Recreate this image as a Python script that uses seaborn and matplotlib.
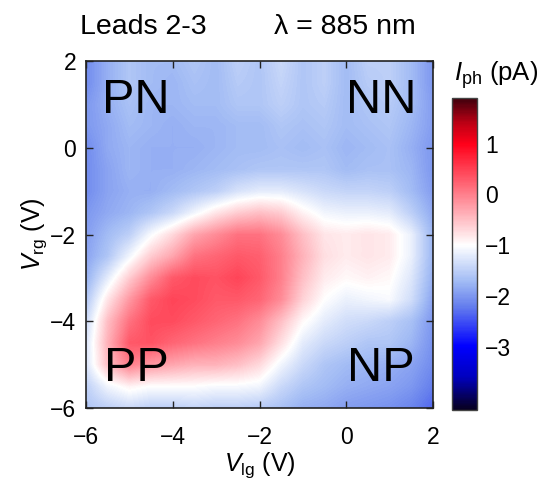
import numpy as np
import matplotlib
matplotlib.use("Agg")
import matplotlib.pyplot as plt
import seaborn as sns
from matplotlib.colors import LinearSegmentedColormap

# ---- data ----
vlg = [-6.0, -5.5, -5.0, -4.5, -4.0, -3.5, -3.0, -2.5, -2.0, -1.5, -1.0, -0.5, 0.0, 0.5, 1.0, 1.5, 2.0]
vrg = [2.0, 1.5, 1.0, 0.5, 0.0, -0.5, -1.0, -1.5, -2.0, -2.5, -3.0, -3.5, -4.0, -4.5, -5.0, -5.5, -6.0]
iph = [
    [-2.1, -1.8, -1.6, -1.7, -1.7, -1.6, -1.7, -1.5, -1.6, -1.4, -1.6, -1.5, -1.7, -1.5, -1.5, -1.7, -2.0],
    [-2.1, -1.8, -1.6, -1.7, -1.75, -1.65, -1.7, -1.55, -1.6, -1.45, -1.6, -1.5, -1.7, -1.55, -1.5, -1.7, -2.0],
    [-2.0, -1.8, -1.65, -1.75, -1.75, -1.7, -1.7, -1.6, -1.6, -1.5, -1.6, -1.55, -1.7, -1.6, -1.55, -1.7, -1.95],
    [-2.0, -1.85, -1.7, -1.75, -1.8, -1.75, -1.75, -1.7, -1.7, -1.6, -1.65, -1.6, -1.7, -1.65, -1.6, -1.75, -1.95],
    [-2.1, -1.85, -1.75, -1.8, -1.8, -1.8, -1.75, -1.7, -1.7, -1.65, -1.7, -1.65, -1.75, -1.7, -1.65, -1.8, -2.0],
    [-2.1, -1.9, -1.75, -1.8, -1.8, -1.75, -1.7, -1.65, -1.6, -1.6, -1.6, -1.6, -1.7, -1.65, -1.65, -1.75, -2.0],
    [-2.1, -1.9, -1.8, -1.8, -1.7, -1.6, -1.5, -1.3, -1.2, -1.2, -1.3, -1.4, -1.45, -1.45, -1.5, -1.7, -1.95],
    [-2.0, -1.85, -1.75, -1.6, -1.4, -1.1, -0.8, -0.6, -0.5, -0.6, -0.9, -1.1, -1.15, -1.15, -1.2, -1.5, -1.85],
    [-1.95, -1.7, -1.5, -1.05, -0.7, -0.3, -0.1, 0.1, 0.1, -0.1, -0.5, -0.8, -0.85, -0.8, -0.85, -1.15, -1.75],
    [-1.9, -1.6, -1.1, -0.6, -0.3, 0.1, 0.2, 0.3, 0.25, 0.0, -0.4, -0.75, -0.85, -0.8, -0.85, -1.15, -1.75],
    [-1.8, -1.2, -0.6, -0.1, 0.3, 0.4, 0.35, 0.45, 0.3, 0.0, -0.5, -0.85, -0.95, -0.9, -0.95, -1.25, -1.8],
    [-1.6, -0.8, -0.2, 0.3, 0.45, 0.4, 0.3, 0.3, 0.2, -0.1, -0.65, -1.0, -1.15, -1.1, -1.05, -1.35, -1.9],
    [-1.4, -0.5, 0.1, 0.4, 0.4, 0.3, 0.2, 0.1, -0.1, -0.5, -0.95, -1.2, -1.35, -1.4, -1.5, -1.65, -2.0],
    [-1.3, -0.4, 0.3, 0.35, 0.2, 0.1, 0.0, -0.1, -0.3, -0.75, -1.2, -1.4, -1.5, -1.6, -1.6, -1.75, -2.05],
    [-1.3, -0.5, 0.0, -0.2, -0.3, -0.4, -0.4, -0.5, -0.7, -1.1, -1.4, -1.6, -1.7, -1.75, -1.8, -1.9, -2.1],
    [-1.5, -1.1, -0.9, -1.0, -1.0, -1.0, -1.05, -1.05, -1.1, -1.4, -1.6, -1.7, -1.8, -1.85, -1.9, -2.0, -2.2],
    [-1.6, -1.5, -1.4, -1.5, -1.5, -1.45, -1.5, -1.5, -1.55, -1.65, -1.8, -1.85, -1.95, -2.0, -2.05, -2.15, -2.35],
]
x_ticks = [-6, -4, -2, 0, 2]
y_ticks = [-6, -4, -2, 0, 2]
cbar_ticks = [1, 0, -1, -2, -3]
corner_labels = ["PN", "NN", "PP", "NP"]
corner_pos = [(-4.85, 1.1), (0.8, 1.1), (-4.85, -5.1), (0.8, -5.1)]
vmin, vmax = -4.25, 1.9

# ---- style ----
sns.set_theme(style="white")
plt.rcParams["font.family"] = ["Liberation Sans", "DejaVu Sans"]
plt.rcParams["mathtext.fontset"] = "custom"
plt.rcParams["mathtext.rm"] = "Liberation Sans"
plt.rcParams["mathtext.it"] = "Liberation Sans:italic"
for key in ["text.color", "axes.labelcolor", "xtick.color", "ytick.color"]:
    plt.rcParams[key] = "black"

def frac(v):
    return (v - vmin) / (vmax - vmin)

cmap = LinearSegmentedColormap.from_list("iph", [
    (0.0, (0.03, 0.0, 0.12)),
    (frac(-3.6), (0.0, 0.0, 0.75)),
    (frac(-3.0), (0.0, 0.0, 1.0)),
    (frac(-2.2), (0.40, 0.50, 0.93)),
    (frac(-1.7), (0.64, 0.74, 0.96)),
    (frac(-1.0), (1.0, 1.0, 1.0)),
    (frac(1.0), (1.0, 0.0, 0.1)),
    (frac(1.4), (0.75, 0.0, 0.08)),
    (1.0, (0.25, 0.0, 0.05)),
])

fig = plt.figure(figsize=(5.37, 4.82), dpi=100)
ax = fig.add_axes([86 / 537, 1 - 408 / 482, 347 / 537, 347 / 482])
cax = fig.add_axes([452 / 537, 1 - 410 / 482, 25 / 537, 312 / 482])

data = np.array(iph)
dx = (vlg[1] - vlg[0]) / 2
dy = (vrg[0] - vrg[1]) / 2
im = ax.imshow(data, cmap=cmap, vmin=vmin, vmax=vmax, interpolation="bilinear",
               extent=[vlg[0] - dx, vlg[-1] + dx, vrg[-1] - dy, vrg[0] + dy],
               origin="upper", aspect="auto")
ax.set_xlim(-6, 2)
ax.set_ylim(-6, 2)
ax.set_xticks(x_ticks)
ax.set_yticks(y_ticks)
ax.set_xticklabels([str(t).replace("-", "\u2212") for t in x_ticks])
ax.set_yticklabels([str(t).replace("-", "\u2212") for t in y_ticks])
ax.tick_params(direction="in", length=5, width=1, color="#222222",
               top=True, right=True, bottom=True, left=True, labelsize=16.5)
ax.tick_params(axis="x", pad=13)
ax.tick_params(axis="y", pad=7)
for s in ax.spines.values():
    s.set_visible(True)
    s.set_color("#222222")
    s.set_linewidth(1.2)

ax.set_xlabel("$V_{\\rm lg}$ (V)", fontsize=18, labelpad=1)
ax.set_ylabel("$V_{\\rm rg}$ (V)", fontsize=18, labelpad=1)

for lab, (px, py) in zip(corner_labels, corner_pos):
    ax.text(px, py, lab, fontsize=35, ha="center", va="center", color="black")

cb = fig.colorbar(im, cax=cax, ticks=cbar_ticks)
cb.ax.set_yticklabels([str(t).replace("-", "\u2212") for t in cbar_ticks])
cb.ax.tick_params(direction="in", length=5, width=1, color="#333333",
                  labelsize=16.5, pad=6, left=True, right=True)
cb.outline.set_edgecolor("#444444")
cb.outline.set_linewidth(1.0)
fig.text(496 / 537, 1 - 75 / 482, "$I_{\\rm ph}$ (pA)", fontsize=18.5, ha="center", va="center")

fig.text(80 / 537, 1 - 27 / 482, "Leads 2-3", fontsize=20.5, ha="left", va="center")
fig.text(345 / 537, 1 - 27 / 482, "\u03bb = 885 nm", fontsize=20.5, ha="center", va="center")

fig.savefig("out.png", dpi=100)
